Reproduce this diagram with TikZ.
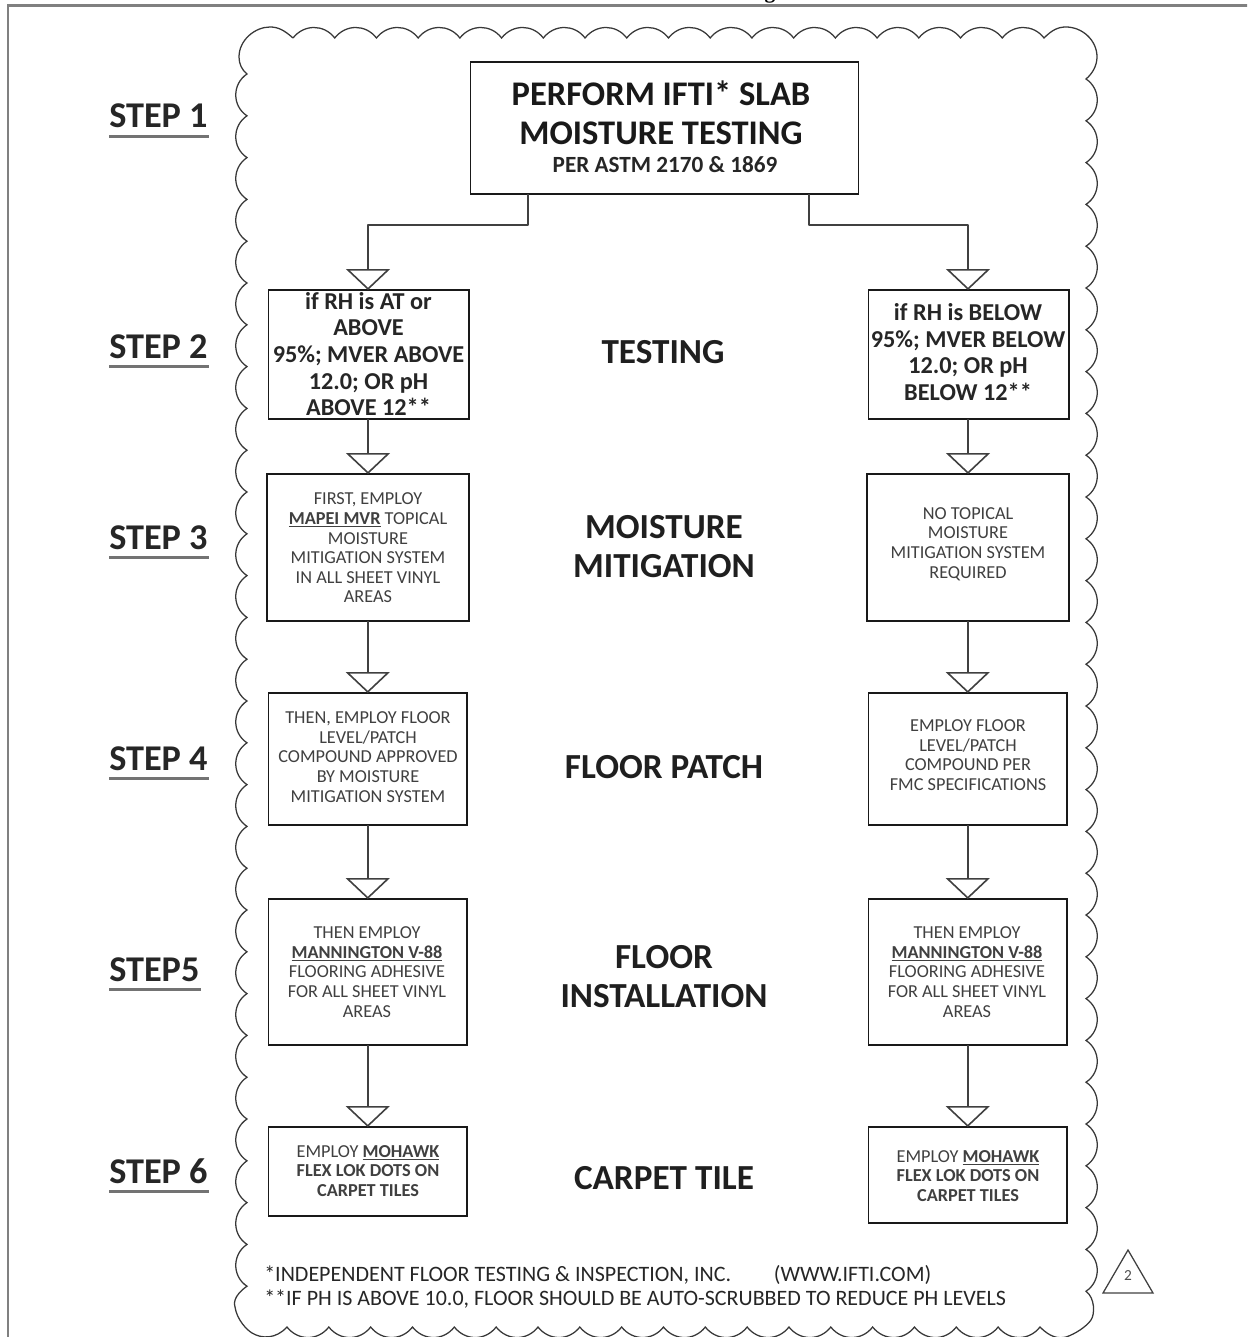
\documentclass[tikz,border=0pt]{standalone}
\usepackage{fontspec}
\setmainfont{Carlito}
\newfontfamily\serifbold{Liberation Serif}[Scale=1]
\usetikzlibrary{arrows.meta}
\newcommand{\fs}[2]{\fontsize{#1}{#2}\selectfont}
\newcommand{\ul}[1]{\underline{#1}}
\tikzset{
  boxn/.style={draw=black!90,line width=1.3pt,fill=white,inner sep=0pt,outer sep=0pt},
  conn/.style={draw=black!75,line width=1.4pt,line join=round,
    -{Triangle[open,length=15.7pt,width=33pt,line width=1.2pt,fill=white]}},
  steplab/.style={font=\bfseries\fs{27.2}{30},text=black!85,anchor=base west,inner sep=0pt},
  steprule/.style={draw=black!55,line width=1.6pt},
  midlab/.style={font=\bfseries\fs{26.4}{29.25},text=black!88,align=center,inner sep=0pt},
  big/.style={font=\bfseries\fs{18.2}{20},text=black!85,align=center,inner sep=0pt},
  small/.style={font=\fs{13.7}{14.7},text=black!75,align=center,inner sep=0pt},
  cloudline/.style={draw=black!78,line width=0.95pt,line join=miter},
}
\newcommand{\boxat}[5]{% name x0 y0 x1 y1
  \node[boxn,minimum width=#4*0.75pt-#2*0.75pt,minimum height=#5*0.75pt-#3*0.75pt,anchor=north west] (#1) at (#2,#3) {};}
\begin{document}
\begin{tikzpicture}[x=0.75pt,y=-0.75pt]
\useasboundingbox (0,0) rectangle (1247,1337);
\begin{scope}
\clip (0,0) rectangle (1247,1337);
% frame
\draw[draw=black!50,line width=1.6pt] (8,1340) -- (8,5.5) -- (1250,5.5);
\node[inner sep=0pt,anchor=base,font=\serifbold\bfseries\fs{16}{18}] (clipped) at (770,-1) {g};
% scalloped outline
\draw[cloudline]
  (293,38) .. controls (284,30) and (278,27) .. (270,27)
  .. controls (255,27) and (239,40) .. (239,57)
  .. controls (239,64) and (242,70) .. (247,74)
  foreach \k in {0,...,28} { .. controls (232,{74+41.8*\k+10}) and (232,{74+41.8*\k+32}) .. (247,{74+41.8*(\k+1)}) }
  .. controls (233,1296) and (234,1304) .. (235,1307)
  .. controls (237,1320) and (247,1330) .. (252,1333)
  .. controls (262,1339) and (276,1339) .. (287,1327)
  foreach \k in {0,...,17} { .. controls ({287+41.83*\k+11},1341) and ({287+41.83*\k+31},1341) .. ({287+41.83*(\k+1)},1327) }
  .. controls (1050,1337) and (1058,1339) .. (1066,1337)
  .. controls (1075,1334) and (1086,1327) .. (1091,1320)
  .. controls (1095,1314) and (1095,1298) .. (1086,1291.2)
  foreach \k in {28,27,...,0} { .. controls (1101,{79+41.8*\k+32}) and (1101,{79+41.8*\k+10}) .. (1086,{79+41.8*\k}) }
  .. controls (1092,74) and (1097,66) .. (1097,57)
  .. controls (1097,40) and (1082,27) .. (1066,27)
  .. controls (1058,27) and (1052,30) .. (1044,38)
  foreach \k in {17,16,...,0} { .. controls ({293+41.72*\k+31},24) and ({293+41.72*\k+11},24) .. ({293+41.72*\k},38) };
% boxes
\boxat{top}{470.5}{62}{858.5}{194}
\boxat{LA}{268.5}{290}{469}{419}
\boxat{RA}{868.5}{290}{1069}{419}
\boxat{LB}{267}{474}{469}{621}
\boxat{RB}{867}{474}{1069}{621}
\boxat{LC}{268.5}{693}{467}{825}
\boxat{RC}{868.5}{693}{1067}{825}
\boxat{LD}{268.5}{899}{467}{1045}
\boxat{RD}{868.5}{899}{1067}{1045}
\boxat{LE}{268.5}{1127}{467}{1216}
\boxat{RE}{868.5}{1127}{1067}{1223}
% connector bends
\coordinate (tl) at (528,194);
\coordinate (tr) at (809,194);
\coordinate (lb) at (LB.north |- 0,225);
\coordinate (rb) at (RB.north |- 0,225);
\draw[conn] (tl) -- (tl |- lb) -- (lb) -- (lb |- LA.north);
\draw[conn] (tr) -- (tr |- rb) -- (rb) -- (rb |- RA.north);
\foreach \a/\b in {LA/LB,LB/LC,LC/LD,LD/LE,RA/RB,RB/RC,RC/RD,RD/RE}
  \draw[conn] (\b.north |- \a.south) -- (\b.north);
% box texts
\node[font=\bfseries\fs{25.9}{29},text=black!90,align=center,inner sep=0pt] (t1) at (661,113) {PERFORM IFTI* SLAB\\MOISTURE TESTING};
\node[font=\bfseries\fs{17.4}{19},text=black!85,inner sep=0pt] (t2) at (665,165) {PER ASTM 2170 \& 1869};
\node[big] (tLA) at (368.5,354) {if RH is AT or\\ABOVE\\95\%; MVER ABOVE\\12.0; OR pH\\ABOVE 12**};
\node[big] (tRA) at (968,352) {if RH is BELOW\\95\%; MVER BELOW\\12.0; OR pH\\BELOW 12**};
\node[small] (tLB) at (368,548) {FIRST, EMPLOY\\{\bfseries\ul{MAPEI MVR}} TOPICAL\\MOISTURE\\MITIGATION SYSTEM\\IN ALL SHEET VINYL\\AREAS};
\node[small] (tRB) at (968,544) {NO TOPICAL\\MOISTURE\\MITIGATION SYSTEM\\REQUIRED};
\node[small] (tLC) at (368,757) {THEN, EMPLOY FLOOR\\LEVEL/PATCH\\COMPOUND APPROVED\\BY MOISTURE\\MITIGATION SYSTEM};
\node[small] (tRC) at (968,755) {EMPLOY FLOOR\\LEVEL/PATCH\\COMPOUND PER\\FMC SPECIFICATIONS};
\node[small] (tLD) at (367,972) {THEN EMPLOY\\{\bfseries\ul{MANNINGTON V-88}}\\FLOORING ADHESIVE\\FOR ALL SHEET VINYL\\AREAS};
\node[small] (tRD) at (967,972) {THEN EMPLOY\\{\bfseries\ul{MANNINGTON V-88}}\\FLOORING ADHESIVE\\FOR ALL SHEET VINYL\\AREAS};
\node[small] (tLE) at (368,1171) {EMPLOY {\bfseries\ul{MOHAWK}}\\{\bfseries FLEX LOK DOTS ON}\\{\bfseries CARPET TILES}};
\node[small] (tRE) at (968,1176) {EMPLOY {\bfseries\ul{MOHAWK}}\\{\bfseries FLEX LOK DOTS ON}\\{\bfseries CARPET TILES}};
% middle labels
\node[midlab] (m1) at (663,352) {TESTING};
\node[midlab] (m2) at (664,547) {MOISTURE\\MITIGATION};
\node[midlab] (m3) at (664,767) {FLOOR PATCH};
\node[midlab] (m4) at (664,977) {FLOOR\\INSTALLATION};
\node[midlab] (m5) at (664,1178) {CARPET TILE};
% step labels
\node[steplab] (s1) at (109,128) {STEP 1};
\node[steplab] (s2) at (109,358) {STEP 2};
\node[steplab] (s3) at (109,549) {STEP 3};
\node[steplab] (s4) at (109,770) {STEP 4};
\node[steplab] (s5) at (109,981) {STEP5};
\node[steplab] (s6) at (109,1183) {STEP 6};
\draw[steprule] (s1.base west)++(0,8.5) -- ++(100,0);
\draw[steprule] (s2.base west)++(0,8.5) -- ++(100,0);
\draw[steprule] (s3.base west)++(0,8.5) -- ++(100,0);
\draw[steprule] (s4.base west)++(0,8.5) -- ++(100,0);
\draw[steprule] (s5.base west)++(0,8.5) -- ++(92,0);
\draw[steprule] (s6.base west)++(0,8.5) -- ++(100,0);
% footnotes
\node[font=\fs{16.5}{17.8},text=black!85,align=left,anchor=north west,inner sep=0pt] (fn) at (264,1265) {*INDEPENDENT FLOOR TESTING \& INSPECTION, INC.\hspace{32pt}(WWW.IFTI.COM)\\**IF PH IS ABOVE 10.0, FLOOR SHOULD BE AUTO-SCRUBBED TO REDUCE PH LEVELS};
% revision triangle
\draw[draw=black!75,line width=0.95pt,line join=miter] (1103,1293) -- (1128,1250) -- (1153,1293) -- cycle;
\node[font=\fs{11.5}{13},text=black!70,inner sep=0pt] (rev) at (1128,1276) {2};
\end{scope}
\end{tikzpicture}
\end{document}
